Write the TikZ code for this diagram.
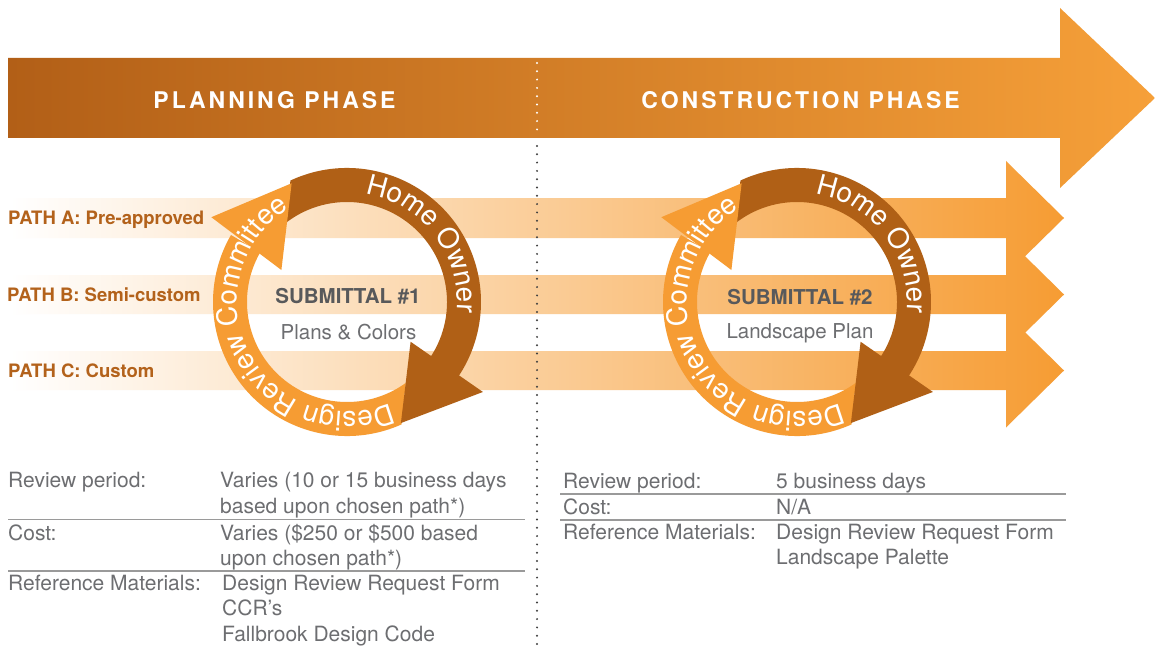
\documentclass[tikz,border=0pt]{standalone}
\usepackage{fontspec}
\setmainfont{TeX Gyre Heros}
\newfontfamily\phasefont[LetterSpace=13]{TeX Gyre Heros}
\usetikzlibrary{decorations.text}
\definecolor{brownA}{HTML}{B06016}
\definecolor{orangeA}{HTML}{F69C33}
\definecolor{barL}{HTML}{B25F17}
\definecolor{barM}{HTML}{D08A50}
\definecolor{barR}{HTML}{F6A039}
\definecolor{pathlbl}{HTML}{B3621B}
\definecolor{grayD}{HTML}{58595B}
\definecolor{grayT}{HTML}{6D6E71}
\definecolor{ruleC}{HTML}{9A9A9A}
\definecolor{dotC}{HTML}{404040}
\newcommand\ringfont{\fontsize{28}{28}\selectfont\color{white}}
\tikzset{
  phase/.style={inner sep=0pt, text=white, font=\phasefont\bfseries\fontsize{23}{23}\selectfont},
  pathlabel/.style={inner sep=0pt, anchor=mid west, text=pathlbl, font=\bfseries\fontsize{18.5}{18.5}\selectfont},
  subtitle/.style={inner sep=0pt, text=grayD, font=\bfseries\fontsize{20.5}{20.5}\selectfont},
  subtext/.style={inner sep=0pt, text=grayT, font=\fontsize{20.5}{20.5}\selectfont},
  tabtext/.style={inner sep=0pt, anchor=mid west, text=grayT, font=\fontsize{21}{21}\selectfont},
  tabrule/.style={draw=ruleC, line width=1.1pt},
  dotline/.style={draw=dotC, line width=2.2pt, line cap=round, dash pattern=on 0pt off 8.3pt},
  dotlinew/.style={dotline, draw=white},
  ringtext/.style={decorate, decoration={text along path, text align=center, text={|\ringfont|#1}}}
}
\newcommand\cycleat[2]{%
  \begin{scope}[shift={(#1,#2)}]
  \begin{scope}[x=1pt,y=1pt]
    \fill[brownA] (115:134) arc[start angle=115, end angle=-34, radius=134]
      -- (-34:100) arc[start angle=-34, end angle=127, radius=100] -- cycle;
    \fill[orangeA] (-66:134) arc[start angle=-66, end angle=-210, radius=134]
      -- (-210:100) arc[start angle=-210, end angle=-54, radius=100] -- cycle;
    \fill[orangeA] (154:73) -- (148:160) -- (115:131) -- cycle;
    \fill[brownA] (-32:75) -- (-33.5:163) -- (-66:132.5) -- cycle;
    \path[ringtext={Home Owner}] (95:110) arc[start angle=95, end angle=-20, radius=110];
    \path[ringtext={Design Review Committee}] (-55:110) arc[start angle=-55, end angle=-250, radius=110];
  \end{scope}
  \end{scope}}
\begin{document}
\begin{tikzpicture}[x=1pt,y=-1pt]
\useasboundingbox (0,0) rectangle (1155,647);
\fill[white] (0,0) rectangle (1155,647);

% top phase arrow
\shade[left color=barL, middle color=barM, right color=barR]
  (8,58) -- (1060,58) -- (1060,8) -- (1155,98) -- (1060,188) -- (1060,138) -- (8,138) -- cycle;
\node[phase] (pp) at (274.5,100) {PLANNING PHASE};
\node[phase] (cp) at (800.5,100) {CONSTRUCTION PHASE};

% path arrows
\shade[left color=white, right color=orangeA]
  (10,198) -- (1006,198) -- (1006,161) -- (1064,218) -- (1006,275) -- (1006,238) -- (10,238) -- cycle;
\shade[left color=white, right color=orangeA]
  (10,275) -- (1006,275) -- (1006,237.5) -- (1064,294.5) -- (1006,351.5) -- (1006,314) -- (10,314) -- cycle;
\shade[left color=white, right color=orangeA]
  (10,351) -- (1006,351) -- (1006,313.5) -- (1064,370.5) -- (1006,427.5) -- (1006,390) -- (10,390) -- cycle;

\node[pathlabel] (pa) at (8,222) {PATH A: Pre-approved};
\node[pathlabel] (pb) at (7,299) {PATH B: Semi-custom};
\node[pathlabel] (pc) at (8,375) {PATH C: Custom};

% divider
\coordinate (d0) at (537,63);
\coordinate (d1) at (537,137);
\coordinate (d2) at (537,146);
\coordinate (d3) at (537,647);
\draw[dotlinew] (d0) -- (d1);
\draw[dotline] (d2) -- (d3);

% cycles
\cycleat{347}{302}
\cycleat{797}{302}

\node[subtitle] (s1) at (348,296) {SUBMITTAL \#1};
\node[subtext] (s1b) at (348.5,332) {Plans \& Colors};
\node[subtitle] (s2) at (800,297) {SUBMITTAL \#2};
\node[subtext] (s2b) at (800,333) {Landscape Plan};

% left table
\node[tabtext] (l1) at (8,485) {Review period:};
\node[tabtext] (l1a) at (220,485) {Varies (10 or 15 business days};
\node[tabtext] (l1b) at (220,511) {based upon chosen path*)};
\draw[tabrule] (8,519.5) -- (525,519.5);
\node[tabtext] (l2) at (8,538) {Cost:};
\node[tabtext] (l2a) at (220,538) {Varies (\$250 or \$500 based};
\node[tabtext] (l2b) at (220,563) {upon chosen path*)};
\draw[tabrule] (8,571) -- (525,571);
\node[tabtext] (l3) at (8,588) {Reference Materials:};
\node[tabtext] (l3a) at (222,588) {Design Review Request Form};
\node[tabtext] (l3b) at (222,613) {CCR’s};
\node[tabtext] (l3c) at (222,639) {Fallbrook Design Code};

% right table
\node[tabtext] (r1) at (563,486) {Review period:};
\node[tabtext] (r1a) at (776,486) {5 business days};
\draw[tabrule] (560,494) -- (1066,494);
\node[tabtext] (r2) at (563,512) {Cost:};
\node[tabtext] (r2a) at (776,512) {N/A};
\draw[tabrule] (560,520) -- (1066,520);
\node[tabtext] (r3) at (563,537) {Reference Materials:};
\node[tabtext] (r3a) at (776,537) {Design Review Request Form};
\node[tabtext] (r3b) at (776,562) {Landscape Palette};
\end{tikzpicture}
\end{document}
